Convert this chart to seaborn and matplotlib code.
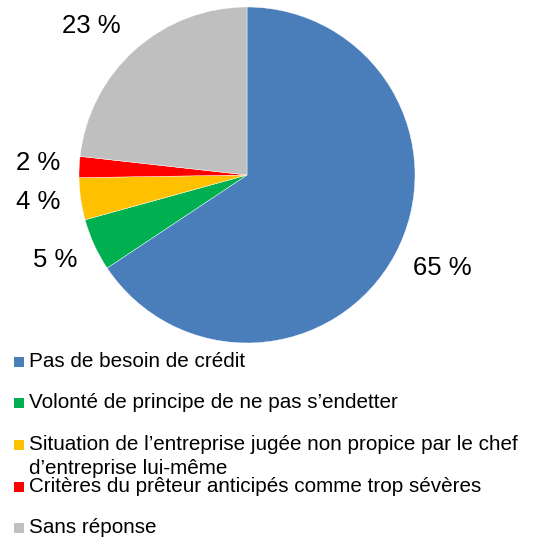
import matplotlib
matplotlib.use("Agg")
import matplotlib.pyplot as plt
from matplotlib.patches import Rectangle
import seaborn as sns

# data
categories = ["Pas de besoin de crédit",
              "Volonté de principe de ne pas s\u2019endetter",
              "Situation de l\u2019entreprise jugée non propice par le chef\nd\u2019entreprise lui-même",
              "Critères du prêteur anticipés comme trop sévères",
              "Sans réponse"]
values = [65, 5, 4, 2, 23]
pct_labels = ["65 %", "5 %", "4 %", "2 %", "23 %"]
colors = ["#4A7EBB", "#00B050", "#FFC000", "#FF0000", "#BFBFBF"]

sns.set_style("white")
plt.rcParams['font.family'] = ['Liberation Sans', 'DejaVu Sans']

W = H = 541
fig = plt.figure(figsize=(W / 100, H / 100), dpi=100)

# pie: centre (247,175) px, radius 168 px
cx, cy, r = 247, 175, 168
ax = fig.add_axes([(cx - r) / W, (H - cy - r) / H, 2 * r / W, 2 * r / H])
wedges, texts = ax.pie(values, labels=pct_labels, colors=colors, startangle=90,
                       counterclock=False, labeldistance=1.27, radius=1,
                       wedgeprops=dict(edgecolor="white", linewidth=0.3),
                       textprops=dict(fontsize=18.5, ha="center", va="center",
                                      color="black"))

# label placement as in the original (pixel centres of the percentage texts)
label_px = [(442, 268), (55, 260), (38, 202), (38, 163), (91, 26)]
for t, (px, py) in zip(texts, label_px):
    t.set_position(((px - cx) / r, (cy - py) / r))

ax.set_xlim(-1, 1)
ax.set_ylim(-1, 1)
ax.set_aspect("equal")
ax.axis("off")

# legend drawn by hand, the wrapped entry overlaps the next one like in the original
baselines = [367, 408, 450, 492, 533]
for cat, col, yb in zip(categories, colors, baselines):
    fig.patches.append(Rectangle((14 / W, 1 - (yb - 0.5) / H), 10 / W, 9.5 / H,
                                 transform=fig.transFigure, facecolor=col,
                                 edgecolor="none"))
    for k, line in enumerate(cat.split("\n")):
        fig.text(29 / W, 1 - (yb + 24 * k) / H, line, fontsize=14.9,
                 ha="left", va="baseline", color="black")

fig.savefig("out.png", dpi=100, facecolor="white")
